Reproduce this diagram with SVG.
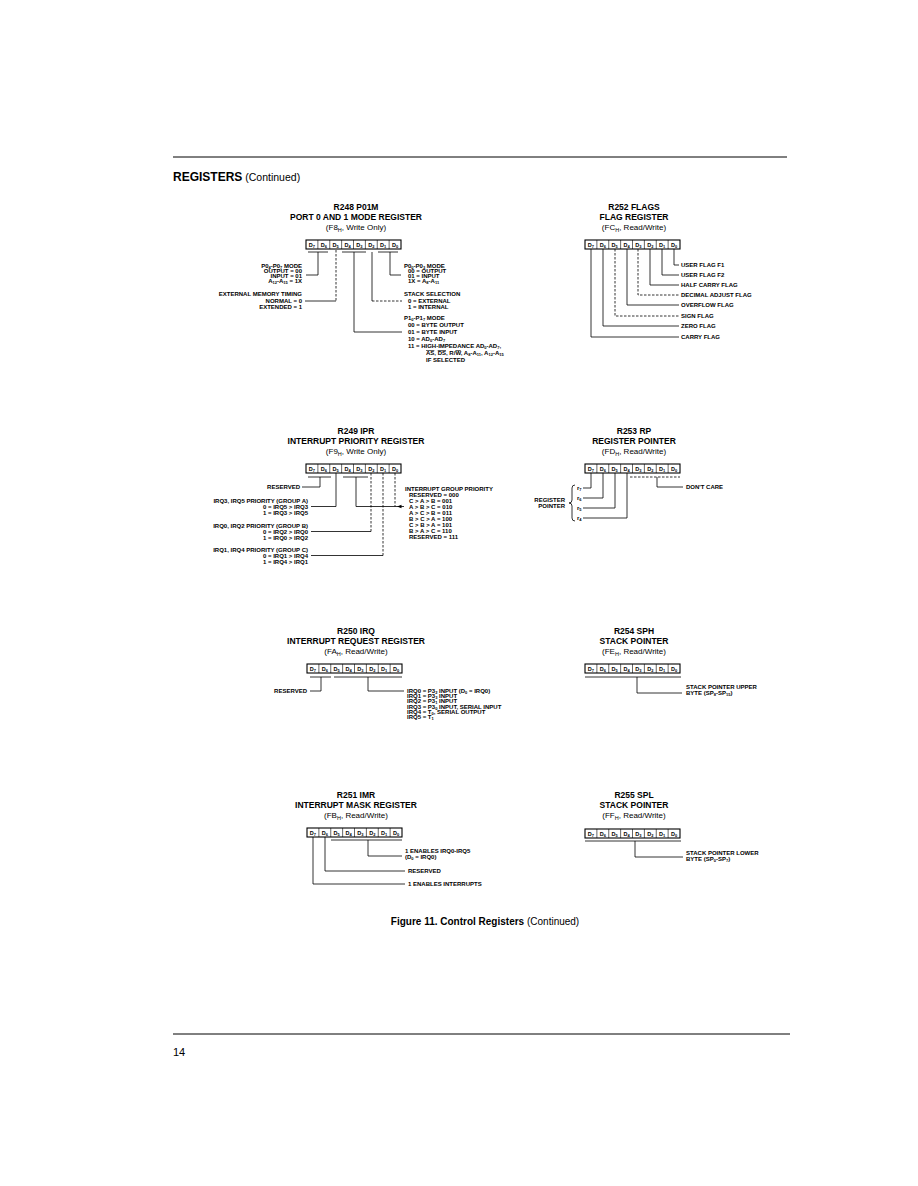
<svg xmlns="http://www.w3.org/2000/svg" xmlns:xlink="http://www.w3.org/1999/xlink" width="918" height="1186" viewBox="0 0 918 1186">
<style>
text{font-family:"Liberation Sans",Arial,Helvetica,sans-serif;fill:#000}
.h{font-size:12px;font-weight:bold}
.hc{font-size:10.5px}
.t1{font-size:8.5px;font-weight:bold;text-anchor:middle}
.t2{font-size:8px;text-anchor:middle}
.sh{font-size:5.5px;baseline-shift:-1.5px}
.l{font-size:6px;font-weight:bold}
.e{text-anchor:end}
.c{font-size:5.5px;font-weight:bold;text-anchor:middle}
.s{font-size:4px;baseline-shift:-1.3px}
.o{text-decoration:overline}
.box{fill:#fff;stroke:#000;stroke-width:1.1}
.dv{stroke:#000;stroke-width:0.6}
.ln{fill:none;stroke:#000;stroke-width:0.8}
.ds{stroke-dasharray:2.5 1.5}
.rule{stroke:#000;stroke-width:1}
.cap{font-size:10px;font-weight:bold}
</style>
<defs>
<g id="cells">
<rect class="box" x="0" y="0" width="95" height="9"/>
<path class="dv" d="M11.875 0V9M23.75 0V9M35.625 0V9M47.5 0V9M59.375 0V9M71.25 0V9M83.125 0V9"/>
<text class="c" x="5.94" y="6.6">D<tspan class="s">7</tspan></text>
<text class="c" x="17.81" y="6.6">D<tspan class="s">6</tspan></text>
<text class="c" x="29.69" y="6.6">D<tspan class="s">5</tspan></text>
<text class="c" x="41.56" y="6.6">D<tspan class="s">4</tspan></text>
<text class="c" x="53.44" y="6.6">D<tspan class="s">3</tspan></text>
<text class="c" x="65.31" y="6.6">D<tspan class="s">2</tspan></text>
<text class="c" x="77.19" y="6.6">D<tspan class="s">1</tspan></text>
<text class="c" x="89.06" y="6.6">D<tspan class="s">0</tspan></text>
</g>
</defs>
<rect width="918" height="1186" fill="#fff"/>

<g id="page">
<line class="rule" x1="173" y1="157" x2="787" y2="157"/>
<text x="173" y="181"><tspan class="h">REGISTERS</tspan><tspan class="hc"> (Continued)</tspan></text>
<text x="485" y="925" text-anchor="middle"><tspan class="cap">Figure 11. Control Registers</tspan><tspan font-size="10"> (Continued)</tspan></text>
<line class="rule" x1="173" y1="1034" x2="790" y2="1034"/>
<text x="173" y="1056" font-size="11">14</text>
</g>

<g id="connectors">
<!-- R248 -->
<path class="ln" d="M308 252H328M318 252V275H306"/>
<path class="ln ds" d="M336 250V301"/>
<path class="ln" d="M336 301H305"/>
<path class="ln" d="M342 252H366M354 252V332H402"/>
<path class="ln" d="M372 252V301"/>
<path class="ln ds" d="M372 301H402"/>
<path class="ln" d="M378 252H398M390 252V275H401"/>
<!-- R252 -->
<path class="ln" d="M674 249V265H679M662 249V275H679M650 249V285H679"/>
<path class="ln ds" d="M638 249V295H679"/>
<path class="ln" d="M627 249V305H679"/>
<path class="ln ds" d="M615 249V316H679"/>
<path class="ln" d="M603 249V326H679M591 249V337H679"/>
<!-- R249 -->
<path class="ln" d="M308 477H331M320 477V487H302"/>
<path class="ln" d="M336 473V506.5H311"/>
<path class="ln" d="M343 477H368M356 477V506.5H404"/>
<path class="ln ds" d="M395 473V506.5"/>
<polygon points="397,506.5 401.5,504.7 401.5,508.3" fill="#000"/>
<path class="ln ds" d="M371 473V531.5"/>
<path class="ln" d="M311 531.5H371"/>
<path class="ln ds" d="M383 473V555.5"/>
<path class="ln" d="M311 555.5H383"/>
<!-- R253 -->
<path class="ln" d="M591 473V488H583M603 473V498H583M615 473V508H583M627 473V518H583"/>
<path class="ln" d="M575 485q-3 0 -3 3v12q0 3 -3 3q3 0 3 3v12q0 3 3 3"/>
<path class="ln ds" d="M630 477H680"/>
<path class="ln" d="M657 477V487H683"/>
<!-- R250 -->
<path class="ln" d="M310 677H331M321 677V691H310"/>
<path class="ln" d="M334 677H402M368 677V691H404"/>
<!-- R254 -->
<path class="ln" d="M585 677H681M637 677V693H682"/>
<!-- R251 -->
<path class="ln" d="M331 840H402M368 840V856H402"/>
<path class="ln" d="M325 837V871H405M313 837V884H405"/>
<!-- R255 -->
<path class="ln" d="M585 841H681M635 841V857H683"/>
</g>

<g id="r248">
<text class="t1" x="356" y="210">R248 P01M</text>
<text class="t1" x="356" y="219.5">PORT 0 AND 1 MODE REGISTER</text>
<text class="t2" x="356" y="229.5">(F8<tspan class="sh">H</tspan>, Write Only)</text>
<use xlink:href="#cells" href="#cells" x="306" y="240"/>
<text class="l e" x="302" y="267.5">P0<tspan class="s">4</tspan>-P0<tspan class="s">7</tspan> MODE</text>
<text class="l e" x="302" y="272.5">OUTPUT = 00</text>
<text class="l e" x="302" y="277.5">INPUT = 01</text>
<text class="l e" x="302" y="282.5">A<tspan class="s">12</tspan>-A<tspan class="s">15</tspan> = 1X</text>
<text class="l e" x="302" y="296">EXTERNAL MEMORY TIMING</text>
<text class="l e" x="302" y="303">NORMAL = 0</text>
<text class="l e" x="302" y="308.5">EXTENDED = 1</text>
<text class="l" x="404" y="267.5">P0<tspan class="s">0</tspan>-P0<tspan class="s">3</tspan> MODE</text>
<text class="l" x="408" y="272.5">00 = OUTPUT</text>
<text class="l" x="408" y="277.5">01 = INPUT</text>
<text class="l" x="408" y="282.5">1X = A<tspan class="s">8</tspan>-A<tspan class="s">11</tspan></text>
<text class="l" x="404" y="296">STACK SELECTION</text>
<text class="l" x="408" y="303">0 = EXTERNAL</text>
<text class="l" x="408" y="308.5">1 = INTERNAL</text>
<text class="l" x="404" y="320">P1<tspan class="s">0</tspan>-P1<tspan class="s">7</tspan> MODE</text>
<text class="l" x="408" y="327">00 = BYTE OUTPUT</text>
<text class="l" x="408" y="334">01 = BYTE INPUT</text>
<text class="l" x="408" y="341">10 = AD<tspan class="s">0</tspan>-AD<tspan class="s">7</tspan></text>
<text class="l" x="408" y="348">11 = HIGH-IMPEDANCE AD<tspan class="s">0</tspan>-AD<tspan class="s">7</tspan>,</text>
<text class="l" x="426" y="355"><tspan class="o">AS</tspan>, <tspan class="o">DS</tspan>, R/<tspan class="o">W</tspan>, A<tspan class="s">8</tspan>-A<tspan class="s">11</tspan>, A<tspan class="s">12</tspan>-A<tspan class="s">15</tspan></text>
<text class="l" x="426" y="362">IF SELECTED</text>
</g>

<g id="r252">
<text class="t1" x="634" y="210">R252 FLAGS</text>
<text class="t1" x="634" y="219.5">FLAG REGISTER</text>
<text class="t2" x="634" y="229.5">(FC<tspan class="sh">H</tspan>, Read/Write)</text>
<use xlink:href="#cells" href="#cells" x="585" y="240"/>
<text class="l" x="681" y="267">USER FLAG F1</text>
<text class="l" x="681" y="277">USER FLAG F2</text>
<text class="l" x="681" y="287">HALF CARRY FLAG</text>
<text class="l" x="681" y="297">DECIMAL ADJUST FLAG</text>
<text class="l" x="681" y="307">OVERFLOW FLAG</text>
<text class="l" x="681" y="318">SIGN FLAG</text>
<text class="l" x="681" y="328">ZERO FLAG</text>
<text class="l" x="681" y="339">CARRY FLAG</text>
</g>

<g id="r249">
<text class="t1" x="356" y="434">R249 IPR</text>
<text class="t1" x="356" y="443.5">INTERRUPT PRIORITY REGISTER</text>
<text class="t2" x="356" y="453.5">(F9<tspan class="sh">H</tspan>, Write Only)</text>
<use xlink:href="#cells" href="#cells" x="306" y="464"/>
<text class="l e" x="300" y="489">RESERVED</text>
<text class="l e" x="308" y="502.5">IRQ3, IRQ5 PRIORITY (GROUP A)</text>
<text class="l e" x="308" y="508.5">0 = IRQ5 &gt; IRQ3</text>
<text class="l e" x="308" y="514.5">1 = IRQ3 &gt; IRQ5</text>
<text class="l e" x="308" y="527.5">IRQ0, IRQ2 PRIORITY (GROUP B)</text>
<text class="l e" x="308" y="533.5">0 = IRQ2 &gt; IRQ0</text>
<text class="l e" x="308" y="539.5">1 = IRQ0 &gt; IRQ2</text>
<text class="l e" x="308" y="551.5">IRQ1, IRQ4 PRIORITY (GROUP C)</text>
<text class="l e" x="308" y="557.5">0 = IRQ1 &gt; IRQ4</text>
<text class="l e" x="308" y="563.5">1 = IRQ4 &gt; IRQ1</text>
<text class="l" x="405" y="490.5">INTERRUPT GROUP PRIORITY</text>
<text class="l" x="409" y="496.5">RESERVED = 000</text>
<text class="l" x="409" y="502.5">C &gt; A &gt; B = 001</text>
<text class="l" x="409" y="508.5">A &gt; B &gt; C = 010</text>
<text class="l" x="409" y="514.5">A &gt; C &gt; B = 011</text>
<text class="l" x="409" y="520.5">B &gt; C &gt; A = 100</text>
<text class="l" x="409" y="526.5">C &gt; B &gt; A = 101</text>
<text class="l" x="409" y="532.5">B &gt; A &gt; C = 110</text>
<text class="l" x="409" y="538.5">RESERVED = 111</text>
</g>

<g id="r253">
<text class="t1" x="634" y="434">R253 RP</text>
<text class="t1" x="634" y="443.5">REGISTER POINTER</text>
<text class="t2" x="634" y="453.5">(FD<tspan class="sh">H</tspan>, Read/Write)</text>
<use xlink:href="#cells" href="#cells" x="585" y="464"/>
<text class="l" x="577" y="490">r<tspan class="s">7</tspan></text>
<text class="l" x="577" y="500">r<tspan class="s">6</tspan></text>
<text class="l" x="577" y="510">r<tspan class="s">5</tspan></text>
<text class="l" x="577" y="520">r<tspan class="s">4</tspan></text>
<text class="l e" x="565" y="501.5">REGISTER</text>
<text class="l e" x="565" y="507.5">POINTER</text>
<text class="l" x="686" y="489">DON'T CARE</text>
</g>

<g id="r250">
<text class="t1" x="356" y="634">R250 IRQ</text>
<text class="t1" x="356" y="643.5">INTERRUPT REQUEST REGISTER</text>
<text class="t2" x="356" y="653.5">(FA<tspan class="sh">H</tspan>, Read/Write)</text>
<use xlink:href="#cells" href="#cells" x="307" y="664"/>
<text class="l e" x="307" y="693">RESERVED</text>
<text class="l" x="407" y="693">IRQ0 = P3<tspan class="s">2</tspan> INPUT (D<tspan class="s">0</tspan> = IRQ0)</text>
<text class="l" x="407" y="698.2">IRQ1 = P3<tspan class="s">3</tspan> INPUT</text>
<text class="l" x="407" y="703.4">IRQ2 = P3<tspan class="s">1</tspan> INPUT</text>
<text class="l" x="407" y="708.6">IRQ3 = P3<tspan class="s">0</tspan> INPUT, SERIAL INPUT</text>
<text class="l" x="407" y="713.8">IRQ4 = T<tspan class="s">0</tspan>, SERIAL OUTPUT</text>
<text class="l" x="407" y="719">IRQ5 = T<tspan class="s">1</tspan></text>
</g>

<g id="r254">
<text class="t1" x="634" y="634">R254 SPH</text>
<text class="t1" x="634" y="643.5">STACK POINTER</text>
<text class="t2" x="634" y="653.5">(FE<tspan class="sh">H</tspan>, Read/Write)</text>
<use xlink:href="#cells" href="#cells" x="585" y="664"/>
<text class="l" x="686" y="689">STACK POINTER UPPER</text>
<text class="l" x="686" y="695">BYTE (SP<tspan class="s">8</tspan>-SP<tspan class="s">15</tspan>)</text>
</g>

<g id="r251">
<text class="t1" x="356" y="798">R251 IMR</text>
<text class="t1" x="356" y="807.5">INTERRUPT MASK REGISTER</text>
<text class="t2" x="356" y="817.5">(FB<tspan class="sh">H</tspan>, Read/Write)</text>
<use xlink:href="#cells" href="#cells" x="307" y="828"/>
<text class="l" x="405" y="853">1 ENABLES IRQ0-IRQ5</text>
<text class="l" x="405" y="859">(D<tspan class="s">0</tspan> = IRQ0)</text>
<text class="l" x="408" y="873">RESERVED</text>
<text class="l" x="408" y="886">1 ENABLES INTERRUPTS</text>
</g>

<g id="r255">
<text class="t1" x="634" y="798">R255 SPL</text>
<text class="t1" x="634" y="807.5">STACK POINTER</text>
<text class="t2" x="634" y="817.5">(FF<tspan class="sh">H</tspan>, Read/Write)</text>
<use xlink:href="#cells" href="#cells" x="585" y="829"/>
<text class="l" x="686" y="855">STACK POINTER LOWER</text>
<text class="l" x="686" y="861">BYTE (SP<tspan class="s">0</tspan>-SP<tspan class="s">7</tspan>)</text>
</g>
</svg>
